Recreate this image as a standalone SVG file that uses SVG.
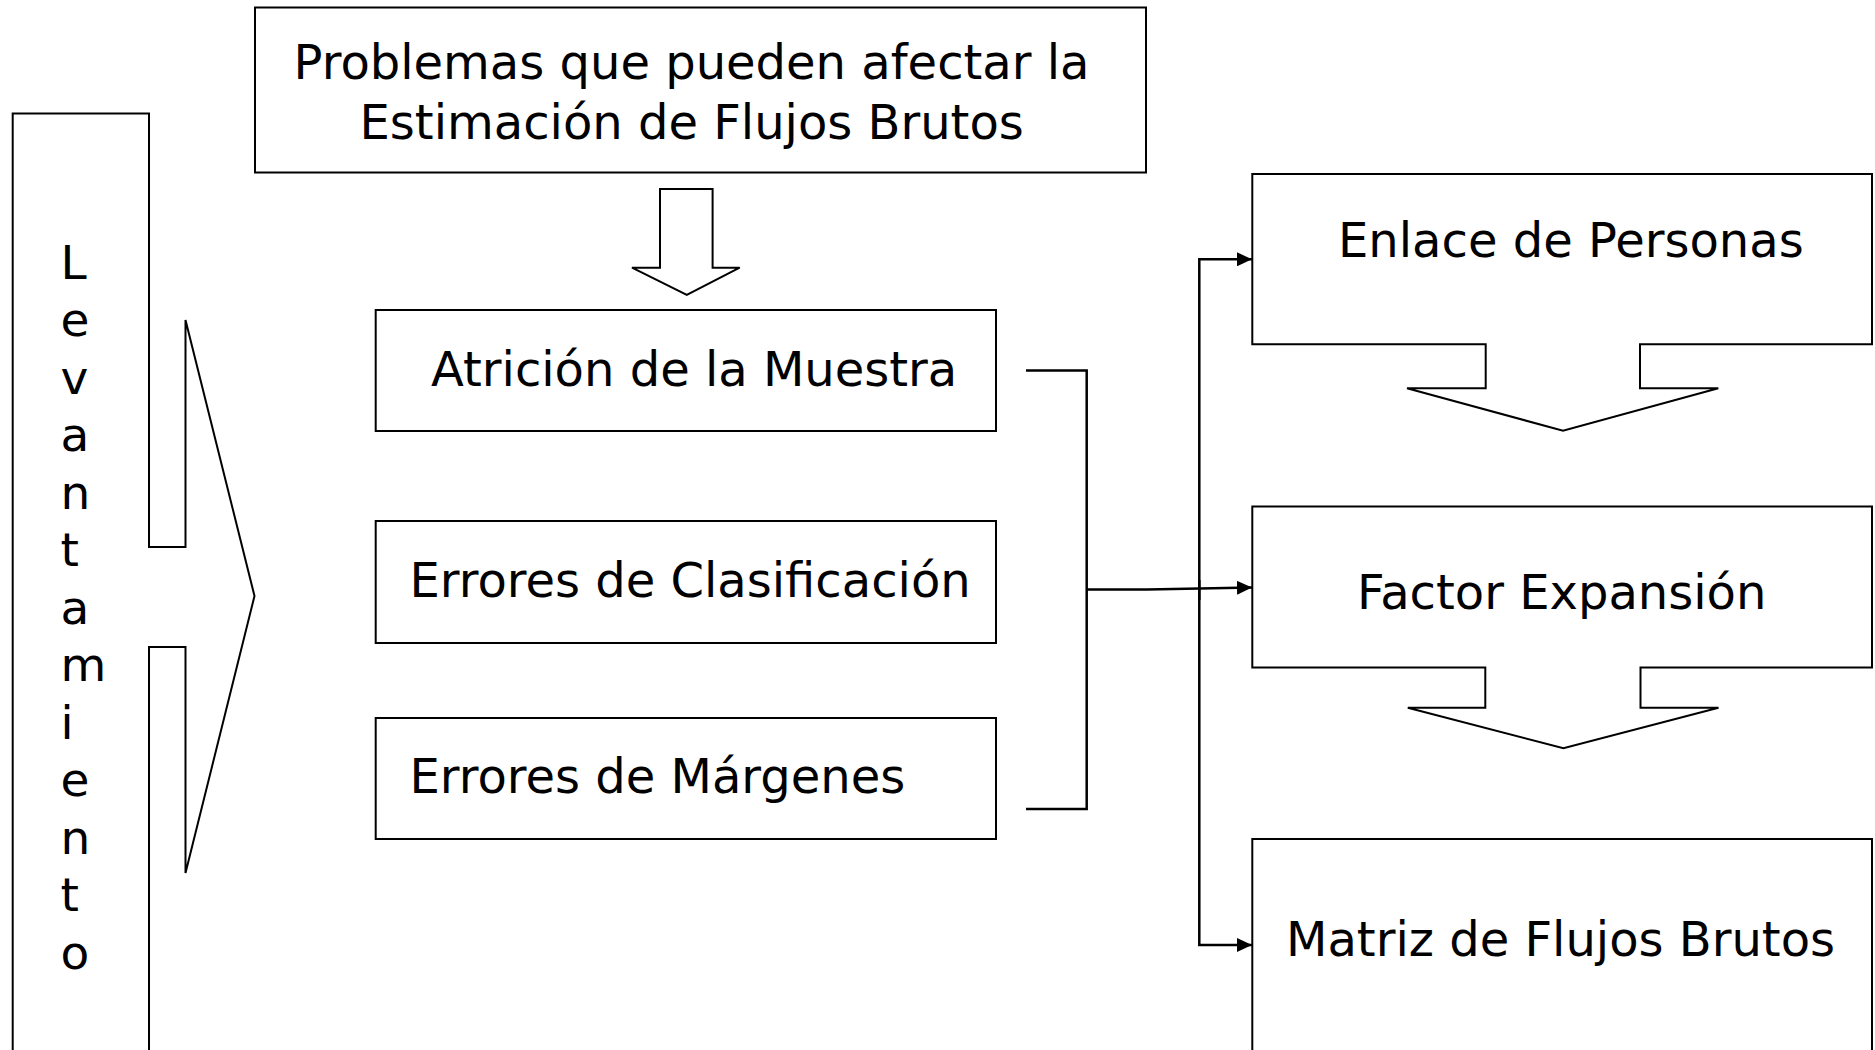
<svg xmlns="http://www.w3.org/2000/svg" width="1875" height="1050" viewBox="0 0 1875 1050">
<style>
.shape{fill:#fff;stroke:#000;stroke-width:2}
.lbl{font-family:"DejaVu Sans","Noto Sans",sans-serif;font-size:48px;fill:#000}
.vlbl{font-family:"DejaVu Sans","Noto Sans",sans-serif;font-size:47px;fill:#000}
.conn{fill:none;stroke:#000;stroke-width:2.5}
</style>
<defs>
<marker id="ah" markerUnits="userSpaceOnUse" viewBox="0 0 15 14" markerWidth="15" markerHeight="14" refX="15" refY="7" orient="auto">
<path d="M0,0 L15,7 L0,14 Z" fill="#000"/>
</marker>
</defs>
<rect width="1875" height="1050" fill="#fff"/>

<g id="levantamiento">
<path class="shape" d="M12.7,1062 V113.5 H149 V547 H185.5 V320 L254.5,596 L185.5,873 V647 H149 V1062"/>
<text class="vlbl" x="60.5" y="278.5">L</text>
<text class="vlbl" x="60.5" y="336">e</text>
<text class="vlbl" x="60.5" y="393.5">v</text>
<text class="vlbl" x="60.5" y="451">a</text>
<text class="vlbl" x="60.5" y="508.5">n</text>
<text class="vlbl" x="60.5" y="566">t</text>
<text class="vlbl" x="60.5" y="623.5">a</text>
<text class="vlbl" x="60.5" y="681">m</text>
<text class="vlbl" x="60.5" y="738.5">i</text>
<text class="vlbl" x="60.5" y="796">e</text>
<text class="vlbl" x="60.5" y="853.5">n</text>
<text class="vlbl" x="60.5" y="911">t</text>
<text class="vlbl" x="60.5" y="968.5">o</text>
</g>

<g id="problemas">
<rect class="shape" x="255" y="7.5" width="891" height="165"/>
<text class="lbl" x="293.6" y="79">Problemas que pueden afectar la</text>
<text class="lbl" x="359.5" y="139">Estimación de Flujos Brutos</text>
</g>

<g id="flecha-abajo">
<path class="shape" d="M660,189 H712.6 V267.7 H739.7 L686.8,295 L632,267.7 H660 Z"/>
</g>

<g id="atricion">
<rect class="shape" x="375.7" y="310" width="620.3" height="121"/>
<text class="lbl" x="431" y="386">Atrición de la Muestra</text>
</g>

<g id="clasificacion">
<rect class="shape" x="375.7" y="521" width="620.3" height="122"/>
<text class="lbl" x="409.5" y="596.7">Errores de Clasificación</text>
</g>

<g id="margenes">
<rect class="shape" x="375.7" y="718" width="620.3" height="121"/>
<text class="lbl" x="409.5" y="793.3">Errores de Márgenes</text>
</g>

<g id="enlace">
<path class="shape" d="M1252.3,174 H1872 V344.3 H1640 V388.3 H1718.3 L1563,430.7 L1407,388.3 H1485.7 V344.3 H1252.3 Z"/>
<text class="lbl" x="1338" y="256.7">Enlace de Personas</text>
</g>

<g id="factor">
<path class="shape" d="M1252.3,506.5 H1872 V667.5 H1640.5 V707.7 H1718.5 L1563.4,748.3 L1407.8,707.7 H1485.3 V667.5 H1252.3 Z"/>
<text class="lbl" x="1357" y="609">Factor Expansión</text>
</g>

<g id="matriz">
<path class="shape" d="M1252.3,1062 V839 H1872 V1062"/>
<text class="lbl" x="1286" y="956">Matriz de Flujos Brutos</text>
</g>

<g id="connectors">
<path class="conn" d="M1026,370.5 H1086.7 V809 H1026"/>
<path class="conn" d="M1086.7,589.5 H1147 L1252,587.5" marker-end="url(#ah)"/>
<path class="conn" d="M1199.3,600 V259.3 H1252" marker-end="url(#ah)"/>
<path class="conn" d="M1199.3,580 V945 H1252" marker-end="url(#ah)"/>
</g>
</svg>
